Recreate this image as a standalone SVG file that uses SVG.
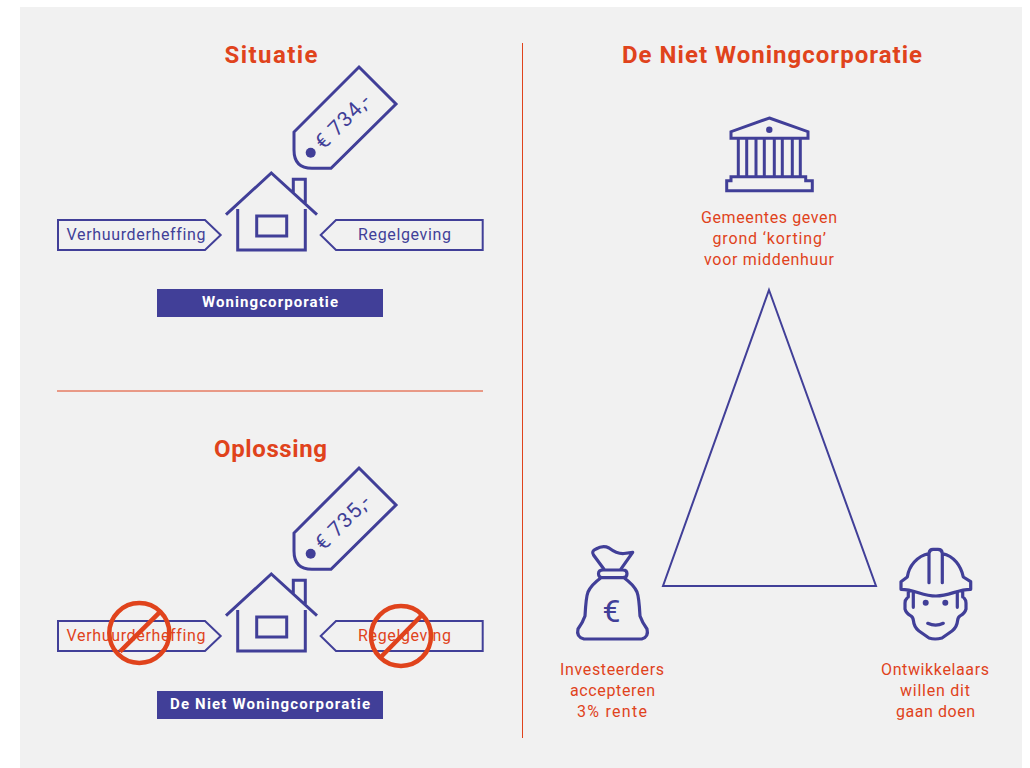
<svg xmlns="http://www.w3.org/2000/svg" width="1030" height="768" viewBox="0 0 1030 768">
<style>
text{font-family:"Roboto","Liberation Sans",sans-serif;font-variant-ligatures:none}
.h{font-size:24px;font-weight:700;fill:#e0431c}
.l{font-size:16px;fill:#e0431c}
.b{font-size:16px;fill:#413f98}
.w{font-size:15px;font-weight:700;fill:#fff}
.p{font-size:21px;fill:#413f98}
.s{fill:none;stroke:#413f98;stroke-width:3;stroke-linejoin:miter}
.t{fill:none;stroke:#413f98;stroke-width:2}
.i{fill:none;stroke:#413f98;stroke-width:3.2;stroke-linejoin:round;stroke-linecap:round}
.m{fill:none;stroke:#413f98;stroke-width:3}
.n{fill:none;stroke:#e0431c;stroke-width:4.500}
.r{stroke:#e0431c;stroke-width:1;fill:none}
.f{fill:#413f98}
</style>
<defs>
<g id="house-shape">
<path class="s" d="M226 214.700L271.300 173L317 214.700M237.700 209V250H305.300V209M293.300 193V179.300H305.300V203"/>
<rect class="s" x="256.700" y="216" width="30" height="20"/>
<path class="s" d="M359 67L396 104L331 168.300H312Q294 168.300 294 150V132Z"/>
<circle class="f" cx="310.700" cy="152.700" r="5"/>
<path class="t" d="M58 220H205L220.700 235L205 250H58ZM482.700 220H336L320.700 235L336 250H482.700Z"/>
</g>
</defs>
<rect x="20" y="7" width="1002" height="761" fill="#f1f1f1"/>
<g id="dividers">
<path class="r" d="M522.500 43V738"/>
<path d="M57 391H483" stroke="#e0431c" stroke-width="1" fill="none"/>
</g>
<g id="situatie">
<text class="h" x="224.500" y="62.500" textLength="93">Situatie</text>
<use href="#house-shape"/>
<text class="p" transform="translate(323.500 150.500) rotate(-45)" textLength="68">€ 734,-</text>
<text class="b" x="66.500" y="240" textLength="139">Verhuurderheffing</text>
<text class="b" x="358" y="240" textLength="93">Regelgeving</text>
<rect class="f" x="157" y="289" width="226" height="28"/>
<text class="w" x="202" y="307" textLength="136">Woningcorporatie</text>
</g>
<g id="oplossing">
<text class="h" x="214" y="456.500" textLength="113">Oplossing</text>
<use href="#house-shape" y="401"/>
<text class="p" transform="translate(323.500 551.500) rotate(-45)" textLength="68">€ 735,-</text>
<text class="l" x="66.500" y="641" textLength="139">Verhuurderheffing</text>
<text class="l" x="358" y="641" textLength="93">Regelgeving</text>
<circle class="n" cx="139.300" cy="633" r="30"/>
<path class="n" d="M120 651.700L159.300 612.700"/>
<circle class="n" cx="401" cy="636" r="30"/>
<path class="n" d="M380.700 657.300L421 616"/>
<rect class="f" x="157" y="691" width="226" height="28"/>
<text class="w" x="170" y="709" textLength="200">De Niet Woningcorporatie</text>
</g>
<g id="de-niet">
<text class="h" x="622" y="62.500" textLength="300">De Niet Woningcorporatie</text>
<path class="t" d="M769 290L876 586H663Z"/>
</g>
<g id="gemeentes">
<path class="m" d="M769.300 118L808 131.700V138.300H731V131.700ZM731 176.700H805.700V180.700H812.300V190.700H726.700V180.700H731ZM738.300 138V177M746.700 138V177M756 138V177M764.300 138V177M774.300 138V177M782.300 138V177M792.300 138V177M800.300 138V177"/>
<circle class="f" cx="769.300" cy="129.700" r="3.200"/>
<text class="l" x="701" y="223" textLength="136">Gemeentes geven</text>
<text class="l" x="712.500" y="244" textLength="113.500">grond ‘korting’</text>
<text class="l" x="704" y="265" textLength="130">voor middenhuur</text>
</g>
<g id="investeerders">
<path class="i" d="M604 569.300L593.500 555Q591 551 596 549Q603 545 609 548Q617 554 624 553.500L632.700 552.300L620.700 569.300M603 570H623Q627 570 627 573.800Q627 577.700 623 577.700H603Q598.500 577.700 598.500 573.800Q598.500 570 603 570ZM601 577.700Q591 585 588 592Q586 597 585 616Q583 622 578 629Q576 637 584 639H641.700Q649 637 647 629Q642 622 640 616Q639 597 637 592Q634 585 624 577.700"/>
<text x="602.500" y="622" style="font-family:'Roboto',sans-serif;font-size:32px;fill:#413f98">€</text>
<text class="l" x="560" y="675" textLength="104">Investeerders</text>
<text class="l" x="570" y="696" textLength="85">accepteren</text>
<text class="l" x="577" y="717" textLength="70">3% rente</text>
</g>
<g id="ontwikkelaars">
<path class="i" d="M929 582.700V553.300Q929.500 549.300 933 549.300H938Q942 549.300 942.300 553.300V582.700M929 553.500C917 556 909 566 907.300 577L901 581.700V589.300C915 589.300 922 596 936 596C950 596 957 589.300 970.700 589.300V581.700L963.300 577C961 566 954 556 942.300 553.500M908.300 591V597M913.300 591.700V607.300M957.300 591.700V607.300M962.700 591V597M907 598.300Q905 600 905 603V609Q906 613 911 616Q913 617 913.500 621Q914 627 919 631L929 638Q935 640 942 638L952 631Q957 627 957.500 621Q958 617 960 616Q965 613 966 609V603Q966 600 964.300 598.300M927.700 623.300Q935.700 627 943.300 623.300"/>
<circle class="f" cx="925.700" cy="602.700" r="3"/>
<circle class="f" cx="945.300" cy="602.700" r="3"/>
<text class="l" x="881" y="675" textLength="108">Ontwikkelaars</text>
<text class="l" x="900" y="696" textLength="70">willen dit</text>
<text class="l" x="896" y="717" textLength="79">gaan doen</text>
</g>
</svg>
